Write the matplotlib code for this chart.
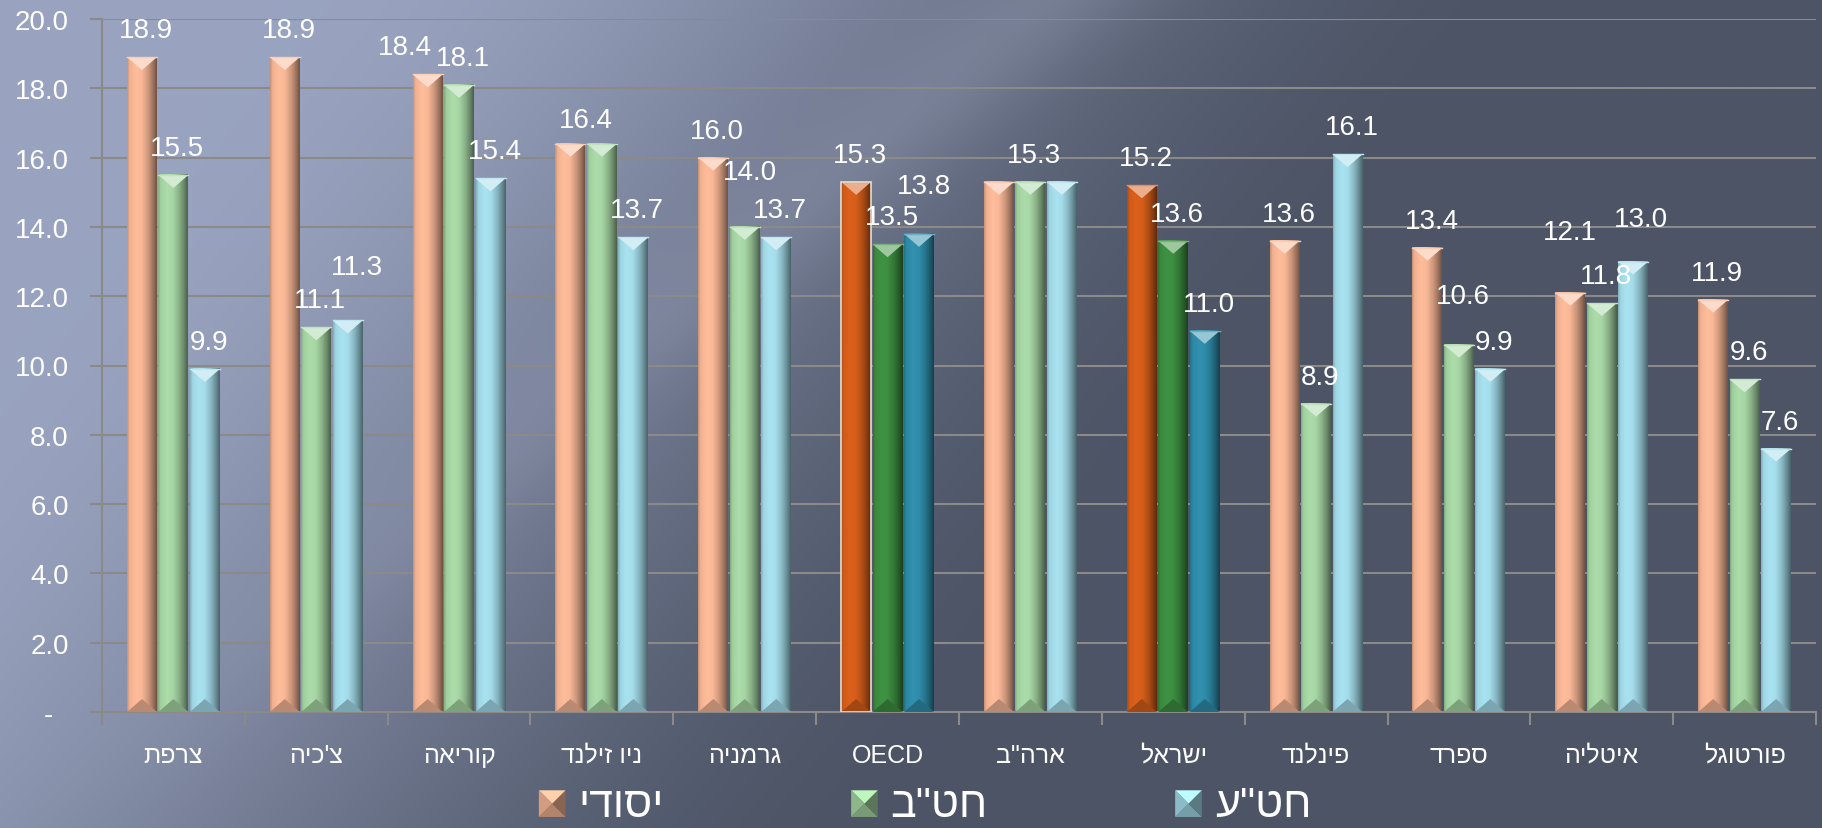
import numpy as np
import matplotlib
matplotlib.use('Agg')
import matplotlib.pyplot as plt
from matplotlib.patches import Polygon, Patch
from matplotlib.legend_handler import HandlerPatch
from matplotlib.ticker import FuncFormatter, FixedLocator

plt.rcParams['font.family'] = ['Liberation Sans', 'DejaVu Sans']

# data
countries = ['צרפת', "צ'כיה", 'קוריאה', 'ניו זילנד', 'גרמניה', 'OECD',
             'ארה"ב', 'ישראל', 'פינלנד', 'ספרד', 'איטליה', 'פורטוגל']
yesodi = [18.9, 18.9, 18.4, 16.4, 16.0, 15.3, 15.3, 15.2, 13.6, 13.4, 12.1, 11.9]
hatab = [15.5, 11.1, 18.1, 16.4, 14.0, 13.5, 15.3, 13.6, 8.9, 10.6, 11.8, 9.6]
hatae = [9.9, 11.3, 15.4, 13.7, 13.7, 13.8, 15.3, 11.0, 16.1, 9.9, 13.0, 7.6]
series_names = ['יסודי', 'חט"ב', 'חט"ע']
highlight = ['OECD', 'ישראל']

light_colors = ['#F8B796', '#A6D6A4', '#A4DCEA']
dark_colors = ['#D65E1A', '#3D8E41', '#2F8DAA']

W, H = 1822, 829
bw = 0.21
step = 0.22
px_per_unit = (713 - 20) / 20.0
group_px = (1816 - 102) / 12
step_px = step * group_px

# label nudges (pixels) where the original moved labels to avoid overlaps
label_shift = {
    (1, 2): (5, 26),
    (2, 0): (-27, 0),
    (3, 0): (step_px / 2 - 4, -3),
    (3, 1): (-step_px / 2 - 4, -3),
    (4, 1): (1, 28),
    (5, 2): (1, 21),
    (6, 0): (step_px, 0),
    (6, 2): (-step_px, 0),
    (9, 1): (0, 22),
    (10, 0): (-4, 34),
    (10, 2): (4, 16),
}


def rtl(s):
    # matplotlib has no bidi support, flip hebrew strings by hand
    if any('\u0590' <= c <= '\u05FF' for c in s):
        return s[::-1]
    return s


def blend(c, other, t):
    c = np.array(matplotlib.colors.to_rgb(c))
    o = np.array(matplotlib.colors.to_rgb(other))
    return tuple(c * (1 - t) + o * t)


fig = plt.figure(figsize=(W / 100, H / 100), dpi=100)

# background gradient
bg = fig.add_axes([0, 0, 1, 1], zorder=-10)
yy, xx = np.mgrid[0:1:300j, 0:1:660j]
d = xx * 1.1 + yy * 0.4
t = np.clip((d - 0.18) / 0.75, 0, 1)
t = t * t * (3 - 2 * t)
streak = 0.06 * np.exp(-((xx + 0.55 * yy - 0.58) / 0.05) ** 2) * (1 - yy)
c_light = np.array([0.60, 0.64, 0.75])
c_dark = np.array([0.30, 0.33, 0.40])
img = c_light * (1 - t[..., None]) + c_dark * t[..., None] + streak[..., None]
bg.imshow(np.clip(img, 0, 1), extent=(0, 1, 0, 1), aspect='auto', interpolation='bicubic')
bg.axis('off')

ax = fig.add_axes([102 / W, (H - 713) / H, (1816 - 102) / W, (713 - 20) / H])
ax.set_facecolor('none')

x = np.arange(len(countries))
all_series = [yesodi, hatab, hatae]

profile_s = np.array([0.0, 0.08, 0.3, 0.5, 0.72, 0.9, 1.0])
profile_v = np.array([0.80, 0.97, 1.03, 1.0, 0.82, 0.6, 0.45])
ss = np.linspace(0, 1, 64)
prof = np.interp(ss, profile_s, profile_v)
chev = 13 / px_per_unit

drawn = set()
for si, vals in enumerate(all_series):
    for i, v in enumerate(vals):
        base = dark_colors[si] if countries[i] in highlight else light_colors[si]
        x0 = x[i] + (si - 1) * step - bw / 2
        rgb = np.array(matplotlib.colors.to_rgb(base))
        strip = np.clip(rgb[None, None, :] * prof[None, :, None], 0, 1)
        ax.imshow(strip, extent=(x0, x0 + bw, 0, v), aspect='auto',
                  interpolation='bilinear', zorder=2)
        xc = x0 + bw / 2
        ax.add_patch(Polygon([(x0, v), (x0 + bw, v), (xc, v - chev)], closed=True,
                             facecolor=blend(base, 'white', 0.5), edgecolor='none', zorder=3))
        ax.add_patch(Polygon([(x0, 0), (x0 + bw, 0), (xc, chev)], closed=True,
                             facecolor=blend(base, 'black', 0.25), edgecolor='none', zorder=3))
        ax.plot([x0, x0 + bw], [v, v], color=blend(base, 'white', 0.3), lw=1, zorder=3)
        dx, dy = label_shift.get((i, si), (0, 0))
        # identical labels stacked on one spot are drawn once
        key = (round(xc * group_px + dx), round(v * px_per_unit + dy), v)
        if key in drawn:
            continue
        drawn.add(key)
        ax.annotate(f'{v:.1f}', (xc, v), xytext=((4 + dx) * 0.72, (20 + dy) * 0.72),
                    textcoords='offset points', ha='center', va='baseline',
                    color='white', fontsize=20, zorder=5)

# OECD orange bar is outlined in the original
oi = countries.index('OECD')
ax.add_patch(plt.Rectangle((x[oi] - step - bw / 2, 0), bw, yesodi[oi], fill=False,
                           edgecolor='#EADBD0', lw=1.2, zorder=4))

ax.set_xlim(-0.5, len(countries) - 0.5)
ax.set_ylim(0, 20)

grid_c = '#8C8A88'
ax.set_yticks(np.arange(0, 21, 2))
ax.yaxis.set_major_formatter(FuncFormatter(lambda v, p: '-  ' if v == 0 else f'{v:.1f}'))
ax.yaxis.grid(True, color=grid_c, lw=1.5, zorder=0)
ax.set_axisbelow(True)
ax.tick_params(axis='y', colors=grid_c, labelcolor='white', labelsize=20, length=9,
               width=1.5, pad=15)

ax.set_xticks(x)
ax.set_xticklabels([rtl(c) for c in countries])
ax.xaxis.set_minor_locator(FixedLocator(np.arange(-0.5, len(countries), 1)))
ax.tick_params(axis='x', which='major', length=0, labelcolor='white', labelsize=18, pad=22)
ax.tick_params(axis='x', which='minor', length=9, width=1.5, color=grid_c)

for side in ['top', 'right']:
    ax.spines[side].set_visible(False)
for side in ['left', 'bottom']:
    ax.spines[side].set_color(grid_c)
    ax.spines[side].set_linewidth(1.5)


class PyramidHandler(HandlerPatch):
    def create_artists(self, legend, orig_handle, xdescent, ydescent, width, height,
                       fontsize, trans):
        c = orig_handle.get_facecolor()
        s = min(width, height)
        x0 = -xdescent + (width - s) / 2
        y0 = -ydescent + (height - s) / 2 - 2
        cx, cy = x0 + s / 2, y0 + s / 2
        pts = [(x0, y0), (x0 + s, y0), (x0 + s, y0 + s), (x0, y0 + s)]
        shades = [0.72, 0.55, 1.15, 0.85]  # bottom, right, top, left
        arts = []
        for k in range(4):
            col = np.clip(np.array(c[:3]) * shades[k], 0, 1)
            p = Polygon([pts[k], pts[(k + 1) % 4], (cx, cy)], closed=True,
                        facecolor=col, edgecolor='none', transform=trans)
            arts.append(p)
        return arts


handles = [Patch(facecolor=c) for c in light_colors]
leg = fig.legend(handles, [rtl(s) for s in series_names], loc='center',
                 bbox_to_anchor=(925 / W, 1 - 806 / H), ncol=3, frameon=False,
                 fontsize=31, labelcolor='white', handlelength=0.62, handleheight=0.62,
                 handletextpad=0.3, columnspacing=4.35,
                 handler_map={Patch: PyramidHandler()})

fig.savefig('out.png', dpi=100)
